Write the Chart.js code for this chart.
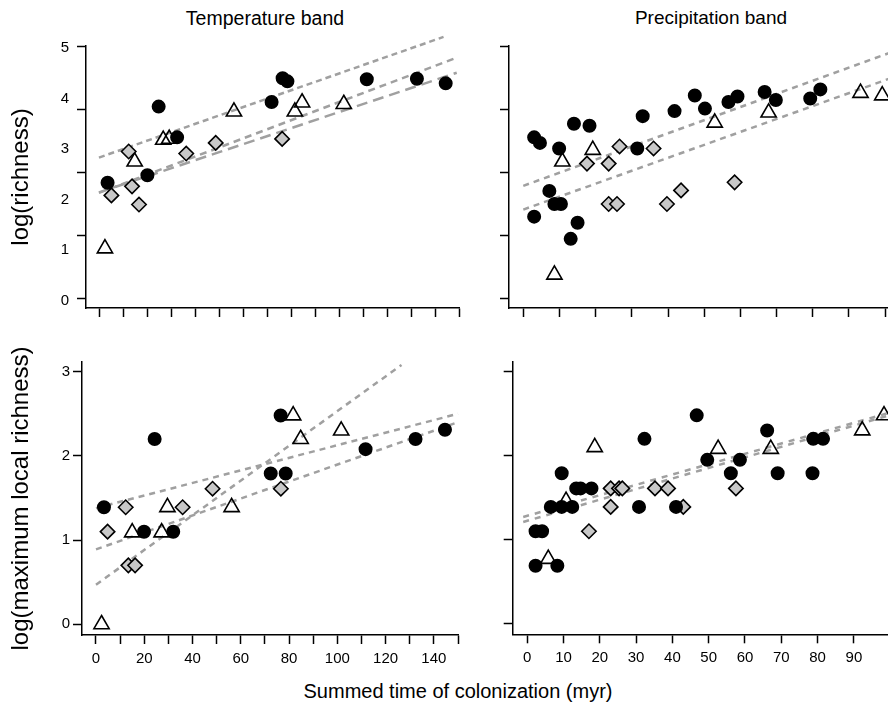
<!DOCTYPE html>
<html>
<head>
<meta charset="utf-8">
<script src="https://cdn.jsdelivr.net/npm/chart.js@4.4.0/dist/chart.umd.min.js"></script>
<style>
    html, body { margin: 0; padding: 0; width: 888px; height: 715px; overflow: hidden; background: #fff; }
    canvas { position: absolute; }
    .txt { position: absolute; font-family: 'Liberation Sans', Arial, sans-serif; color: #000;
           white-space: nowrap; transform: translate(-50%, -50%); }
</style>
</head>
<body>
<div class="txt" style="left:265px; top:18px; font-size:19.5px;">Temperature band</div>
<div class="txt" style="left:711px; top:18px; font-size:19px;">Precipitation band</div>
<div class="txt" style="left:458px; top:691px; font-size:20px;">Summed time of colonization (myr)</div>

<canvas id="tempRich" width="470" height="330" style="left:0px; top:0px;"></canvas>
<canvas id="precRich" width="470" height="330" style="left:440px; top:0px;"></canvas>
<canvas id="tempLocal" width="470" height="350" style="left:0px; top:330px;"></canvas>
<canvas id="precLocal" width="480" height="350" style="left:440px; top:330px;"></canvas>

<script>
// ---- Data ----

// Temperature band, log(richness)
const tempRichCircX = [3.2, 19.8, 24.5, 32.2, 71.6, 76.2, 78.2, 111.3, 132.2, 144.2];
const tempRichCircY = [2.29, 2.44, 3.80, 3.19, 3.89, 4.36, 4.30, 4.34, 4.35, 4.26];
const tempRichDiamX = [4.8, 12.0, 13.4, 16.3, 36.0, 48.3, 76.0];
const tempRichDiamY = [2.04, 2.91, 2.22, 1.86, 2.87, 3.08, 3.16];
const tempRichTriX = [2.1, 14.5, 26.4, 28.9, 55.9, 81.3, 84.3, 101.7];
const tempRichTriY = [0.99, 2.71, 3.14, 3.16, 3.70, 3.70, 3.88, 3.85];
const tempRichFitX = [[-0.4, 143.3], [-0.4, 148.8], [-0.4, 148.8]];
const tempRichFitY = [[2.79, 5.18], [2.09, 4.77], [2.10, 4.47]];

// Precipitation band, log(richness)
const precRichCircX = [3.0, 4.6, 9.9, 14.0, 18.3, 31.5, 33.0, 41.8, 47.4, 50.2, 56.7, 59.2, 66.7, 69.8, 79.3, 82.1,
                       7.2, 8.6, 10.4, 3.0, 15.0, 13.1];
const precRichCircY = [3.19, 3.08, 2.97, 3.46, 3.42, 2.97, 3.61, 3.71, 4.02, 3.76, 3.89, 4.00, 4.09, 3.93, 3.96, 4.14,
                       2.13, 1.87, 1.87, 1.62, 1.50, 1.18];
const precRichDiamX = [17.6, 23.6, 26.6, 36.0, 23.6, 25.9, 39.7, 43.6, 58.4];
const precRichDiamY = [2.67, 2.67, 3.01, 2.97, 1.87, 1.87, 1.87, 2.14, 2.30];
const precRichTriX = [10.8, 19.2, 8.6, 52.9, 67.8, 93.2, 99.2];
const precRichTriY = [2.71, 2.94, 0.47, 3.48, 3.68, 4.07, 4.02];
const precRichFitX = [[0, 103], [0, 103]];
const precRichFitY = [[2.23, 4.91], [1.76, 4.40]];

// Temperature band, log(maximum local richness)
const tempLocalCircX = [3.3, 19.9, 24.3, 32.0, 72.4, 76.5, 78.6, 111.7, 132.4, 144.6];
const tempLocalCircY = [1.39, 1.10, 2.20, 1.10, 1.79, 2.48, 1.79, 2.08, 2.20, 2.31];
const tempLocalDiamX = [4.8, 12.3, 13.4, 16.2, 35.9, 48.3, 76.6];
const tempLocalDiamY = [1.10, 1.39, 0.70, 0.70, 1.39, 1.61, 1.61];
const tempLocalTriX = [2.3, 15.0, 27.2, 29.6, 56.2, 81.7, 84.8, 101.6];
const tempLocalTriY = [0.0, 1.09, 1.09, 1.39, 1.39, 2.48, 2.20, 2.30];
const tempLocalFitX = [[0, 126.6], [0, 150], [0, 150]];
const tempLocalFitY = [[0.47, 3.08], [1.38, 2.50], [0.89, 2.40]];

// Precipitation band, log(maximum local richness)
const precLocalCircX = [2.3, 8.3, 2.3, 4.1, 6.5, 9.5, 12.4, 9.5, 13.5, 14.7, 17.7, 30.8, 32.3, 41.0, 46.7,
                        49.6, 56.1, 58.6, 66.1, 69.0, 78.8, 81.5, 78.6];
const precLocalCircY = [0.69, 0.69, 1.10, 1.10, 1.39, 1.39, 1.39, 1.79, 1.61, 1.61, 1.61, 1.39, 2.20, 1.39, 2.48,
                        1.95, 1.79, 1.95, 2.30, 1.79, 2.20, 2.20, 1.79];
const precLocalDiamX = [17.0, 23.0, 25.3, 26.2, 23.0, 35.2, 38.8, 43.0, 57.5];
const precLocalDiamY = [1.10, 1.61, 1.61, 1.61, 1.39, 1.61, 1.61, 1.39, 1.61];
const precLocalTriX = [5.8, 10.7, 18.6, 52.6, 67.1, 92.3, 98.3];
const precLocalTriY = [0.77, 1.46, 2.10, 2.08, 2.08, 2.30, 2.48];
const precLocalFitX = [[-1.1, 100.5], [-1.1, 100.5]];
const precLocalFitY = [[1.27, 2.52], [1.21, 2.49]];

// Axis ticks and labels
const tempTicks = [0, 10, 20, 30, 40, 50, 60, 70, 80, 90, 100, 110, 120, 130, 140, 150];
const tempLabels = [0, 20, 40, 60, 80, 100, 120, 140];
const precTicks = [0, 10, 20, 30, 40, 50, 60, 70, 80, 90, 100];
const precLabels = [0, 10, 20, 30, 40, 50, 60, 70, 80, 90];
const richTicks = [0, 1, 1.25, 2, 2.5, 3, 3.75, 4, 5];
const richMarks = [0, 1.25, 2.5, 3.75, 5];
const richLabels = [0, 1, 2, 3, 4, 5];
const localTicks = [0, 1, 2, 3];
const localLabels = [0, 1, 2, 3];

Chart.defaults.font.family = "'Liberation Sans', Arial, sans-serif";
Chart.defaults.color = '#000';

// Scatter dataset for one group of markers
function markers(xs, ys, style, radius, fill, order) {
    return {
        data: xs.map((x, i) => ({ x: x, y: ys[i] })),
        pointStyle: style,
        pointRadius: radius,
        pointHoverRadius: radius,
        pointBackgroundColor: fill,
        pointBorderColor: '#000',
        pointBorderWidth: 1.6,
        clip: false,
        order: order
    };
}

function makePanel(id, p) {
    const datasets = [];

    // Fitted lines go under the points
    p.fitX.forEach((xs, i) => {
        datasets.push({
            data: xs.map((x, j) => ({ x: x, y: p.fitY[i][j] })),
            showLine: true,
            pointRadius: 0,
            borderColor: '#a0a0a0',
            borderWidth: 2.5,
            borderDash: p.dashes[i],
            clip: false,
            order: 3
        });
    });
    datasets.push(markers(p.triX, p.triY, 'triangle', 8.8, 'rgba(0,0,0,0)', 2));
    datasets.push(markers(p.diamX, p.diamY, 'rectRot', 7.2, '#c8c8c8', 1));
    datasets.push(markers(p.circX, p.circY, 'circle', 6.2, '#000', 0));

    return new Chart(document.getElementById(id), {
        type: 'scatter',
        data: { datasets: datasets },
        options: {
            responsive: false,
            devicePixelRatio: 1,
            animation: false,
            events: [],
            layout: { padding: { left: 0, top: p.padTop, right: p.padRight, bottom: 0 } },
            plugins: { legend: { display: false }, tooltip: { enabled: false } },
            scales: {
                x: {
                    type: 'linear',
                    min: p.xMin,
                    max: p.xMax,
                    afterBuildTicks: s => { s.ticks = p.xTicks.map(v => ({ value: v })); },
                    afterFit: s => { s.height = p.xAxisHeight; },
                    grid: { drawOnChartArea: false, tickLength: 9, tickColor: '#000', tickWidth: 1.5 },
                    border: { color: '#000', width: 1.5 },
                    ticks: {
                        display: p.xLabels.length > 0,
                        autoSkip: false,
                        maxRotation: 0,
                        padding: 6,
                        font: { size: 15 },
                        callback: v => p.xLabels.includes(v) ? String(v) : ''
                    }
                },
                y: {
                    type: 'linear',
                    min: p.yMin,
                    max: p.yMax,
                    afterBuildTicks: s => { s.ticks = p.yTicks.map(v => ({ value: v })); },
                    afterFit: s => { s.width = p.yAxisWidth; },
                    grid: {
                        drawOnChartArea: false,
                        tickLength: 9,
                        tickWidth: 1.5,
                        tickColor: c => p.yMarks.includes(c.tick.value) ? '#000' : 'rgba(0,0,0,0)'
                    },
                    border: { color: '#000', width: 1.5 },
                    title: {
                        display: !!p.yTitle,
                        text: p.yTitle || '',
                        font: { size: 24 },
                        padding: { top: 6.6, bottom: 0 }
                    },
                    ticks: {
                        display: p.yLabels.length > 0,
                        autoSkip: false,
                        padding: p.yPad,
                        labelOffset: p.yLabelShift,
                        font: { size: 15 },
                        callback: v => p.yLabels.includes(v) ? String(v) : ''
                    }
                }
            }
        }
    });
}

makePanel('tempRich', {
    circX: tempRichCircX, circY: tempRichCircY, diamX: tempRichDiamX, diamY: tempRichDiamY,
    triX: tempRichTriX, triY: tempRichTriY, fitX: tempRichFitX, fitY: tempRichFitY,
    dashes: [[6, 4], [7, 5], [11, 6]],
    xMin: -5.8, xMax: 150, xTicks: tempTicks, xLabels: [],
    yMin: -0.19, yMax: 5, yTicks: richTicks, yMarks: richMarks, yLabels: richLabels,
    yTitle: 'log(richness)', yPad: 8, yLabelShift: 2,
    padTop: 46, padRight: 7, xAxisHeight: 22, yAxisWidth: 86
});

makePanel('precRich', {
    circX: precRichCircX, circY: precRichCircY, diamX: precRichDiamX, diamY: precRichDiamY,
    triX: precRichTriX, triY: precRichTriY, fitX: precRichFitX, fitY: precRichFitY,
    dashes: [[6, 5], [6, 5]],
    xMin: -3.95, xMax: 104, xTicks: precTicks, xLabels: [],
    yMin: -0.19, yMax: 5, yTicks: richTicks, yMarks: richMarks, yLabels: [],
    yTitle: '', yPad: 8, yLabelShift: 0,
    padTop: 46, padRight: 10, xAxisHeight: 22, yAxisWidth: 69
});

makePanel('tempLocal', {
    circX: tempLocalCircX, circY: tempLocalCircY, diamX: tempLocalDiamX, diamY: tempLocalDiamY,
    triX: tempLocalTriX, triY: tempLocalTriY, fitX: tempLocalFitX, fitY: tempLocalFitY,
    dashes: [[6, 5], [6, 5], [6, 5]],
    xMin: -5.8, xMax: 150, xTicks: tempTicks, xLabels: tempLabels,
    yMin: -0.127, yMax: 3.115, yTicks: localTicks, yMarks: localTicks, yLabels: localLabels,
    yTitle: 'log(maximum local richness)', yPad: 3, yLabelShift: 0,
    padTop: 32, padRight: 12, xAxisHeight: 45, yAxisWidth: 82
});

makePanel('precLocal', {
    circX: precLocalCircX, circY: precLocalCircY, diamX: precLocalDiamX, diamY: precLocalDiamY,
    triX: precLocalTriX, triY: precLocalTriY, fitX: precLocalFitX, fitY: precLocalFitY,
    dashes: [[6, 6], [6, 6]],
    xMin: -4.0, xMax: 104, xTicks: precTicks, xLabels: precLabels,
    yMin: -0.127, yMax: 3.115, yTicks: localTicks, yMarks: localTicks, yLabels: [],
    yTitle: '', yPad: 3, yLabelShift: 0,
    padTop: 32, padRight: 15.3, xAxisHeight: 45.7, yAxisWidth: 72.7
});
</script>
</body>
</html>
